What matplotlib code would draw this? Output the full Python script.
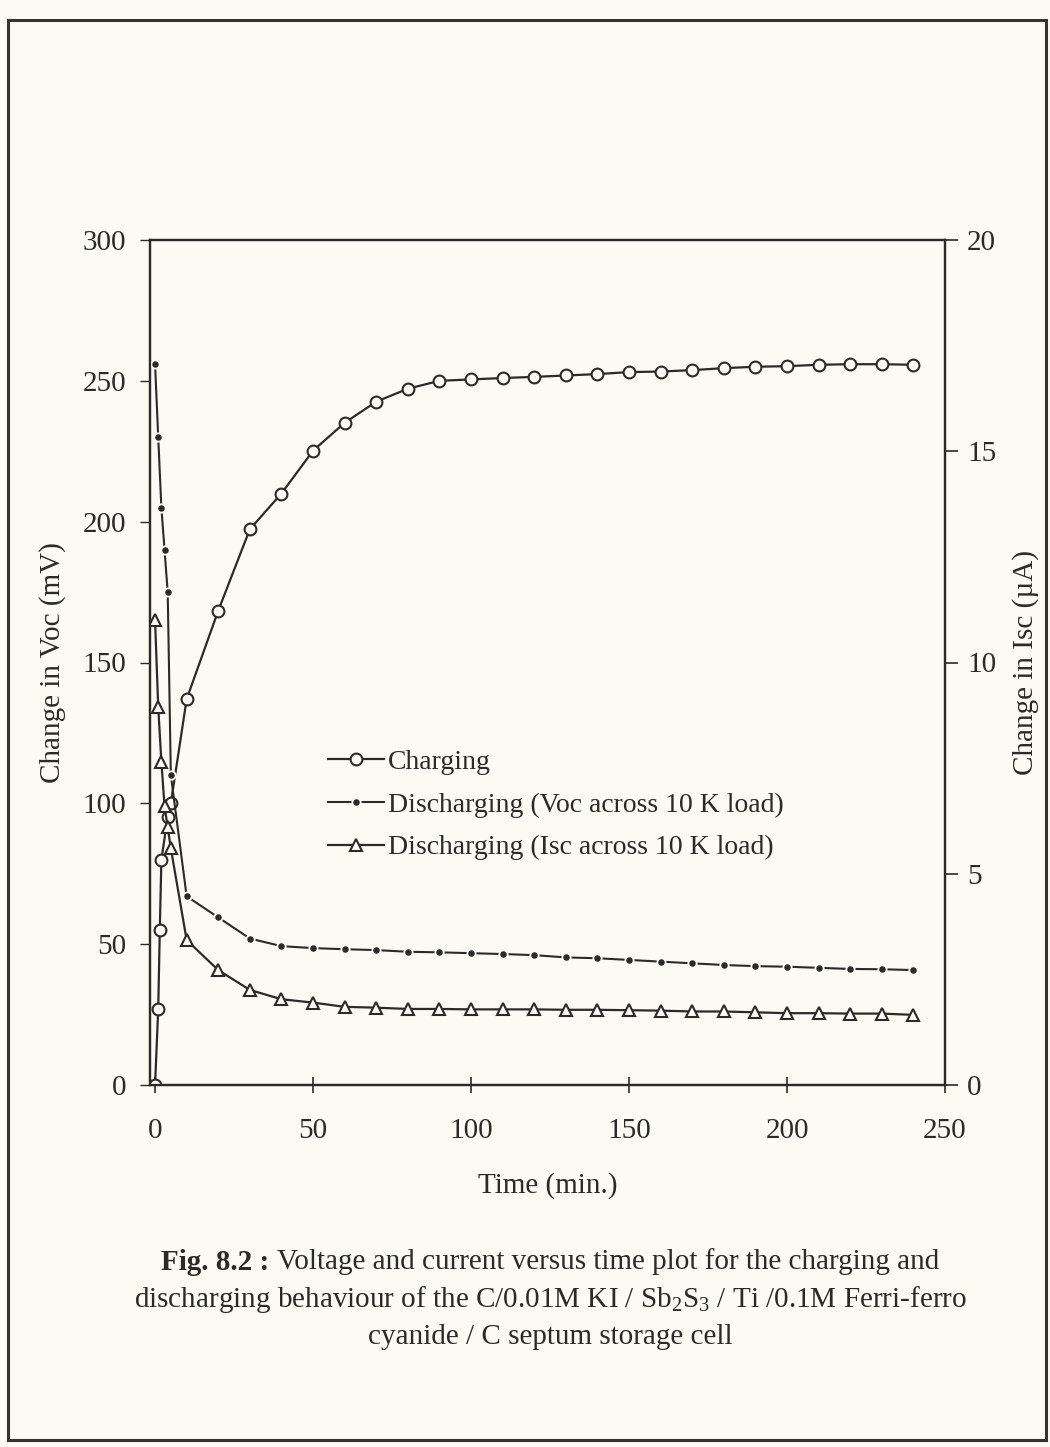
import matplotlib
matplotlib.use("Agg")
import matplotlib.pyplot as plt
from matplotlib.patches import Rectangle

plt.rcParams["font.family"] = ["Liberation Serif", "DejaVu Serif"]
plt.rcParams["mathtext.fontset"] = "custom"
plt.rcParams["mathtext.rm"] = "Liberation Serif"
plt.rcParams["mathtext.it"] = "Liberation Serif"
plt.rcParams["mathtext.bf"] = "Liberation Serif:bold"

# ---------------------------------------------------------------
# Data
# ---------------------------------------------------------------
t_long = list(range(10, 250, 10))

t_charge = [0, 1, 1.5, 2, 4, 5] + t_long
v_charge = [0, 27, 55, 80, 95, 100,
            137, 168.4, 197.3, 210, 225.2, 235.1, 242.6, 247.2, 250, 250.5,
            251, 251.4, 251.9, 252.4, 253.1, 253.3, 253.8, 254.5, 255, 255.2,
            255.7, 255.9, 255.9, 255.7]

t_dis = [0, 1, 2, 3, 4, 5] + t_long
v_dis = [256, 230, 205, 190, 175, 110,
         67, 59.5, 52, 49.3, 48.6, 48.2, 47.9, 47.3, 47.1, 46.8,
         46.5, 46.1, 45.3, 45.0, 44.4, 43.8, 43.2, 42.6, 42.2, 42.0,
         41.6, 41.2, 41.1, 40.8]

t_isc = [0, 1, 2, 3, 4, 5] + t_long
i_isc = [11.0, 8.95, 7.65, 6.6, 6.1, 5.6,
         3.43, 2.72, 2.25, 2.03, 1.95, 1.85, 1.83, 1.80, 1.80, 1.79,
         1.79, 1.79, 1.78, 1.78, 1.77, 1.76, 1.74, 1.74, 1.72, 1.70,
         1.70, 1.69, 1.69, 1.66]

x_ticks = [0, 50, 100, 150, 200, 250]
v_ticks = [0, 50, 100, 150, 200, 250, 300]
i_ticks = [0, 5, 10, 15, 20]

BG = "#fcfbf3"
INK = "#2a2a2a"
FS = 21

fig = plt.figure(figsize=(10.5, 14.47), dpi=100, facecolor=BG)
ax = fig.add_axes([150 / 1050, 1 - 1085 / 1447, 795 / 1050, 845 / 1447])
ax.set_facecolor(BG)
ax2 = ax.twinx()

l1, = ax.plot(t_charge, v_charge, color=INK, lw=1.6, marker="o", ms=8.5,
              mfc=BG, mec=INK, mew=1.5, label="Charging", zorder=3)
l2, = ax.plot(t_dis, v_dis, color=INK, lw=1.5, marker="o", ms=6,
              mfc=INK, mec=BG, mew=1.3,
              label="Discharging (Voc across 10 K load)", zorder=3)
l3, = ax2.plot(t_isc, i_isc, color=INK, lw=1.6, marker="^", ms=8.5,
               mfc=BG, mec=INK, mew=1.5,
               label="Discharging (Isc across 10 K load)", zorder=3)

ax.set_xlim(-1.6, 250)
ax.set_ylim(0, 300)
ax2.set_ylim(0, 20)
ax.set_xticks(x_ticks)
ax.set_yticks(v_ticks)
ax2.set_yticks(i_ticks)

for a in (ax, ax2):
    for s in a.spines.values():
        s.set_color(INK)
        s.set_linewidth(1.6)

ax.tick_params(axis="x", direction="inout", length=12, width=1.2,
               labelsize=FS, pad=18, colors=INK)
ax.tick_params(axis="y", direction="out", length=7, width=1.0,
               labelsize=FS, pad=10, colors=INK)
ax2.tick_params(axis="y", direction="out", length=9, width=1.2,
                labelsize=FS, pad=7, colors=INK)

ax.set_xlabel("Time (min.)", fontsize=FS, color=INK, labelpad=20)
ax.set_ylabel("Change in Voc (mV)", fontsize=FS, color=INK, labelpad=12)
ax2.set_ylabel("Change in Isc (\u00b5A)", fontsize=FS, color=INK, labelpad=11)

leg = ax.legend(handles=[l1, l2, l3], loc="upper left",
                bbox_to_anchor=(0.21, 0.41), frameon=False, fontsize=20,
                handlelength=2.0, handletextpad=0.15, labelspacing=0.62,
                borderaxespad=0)
for txt in leg.get_texts():
    txt.set_color(INK)

# caption: bold prefix + plain text on first line, centred as one line
cx = 550 / 1050
line_h = 37.5 / 1447
y0 = 1 - 1262 / 1447
bold = fig.text(0, y0, "Fig. 8.2 : ", fontsize=FS, fontweight="bold",
                color=INK, ha="left", va="center")
rest = fig.text(0, y0, "Voltage and current versus time plot for the charging and",
                fontsize=FS, color=INK, ha="left", va="center")
fig.canvas.draw()
r = fig.canvas.get_renderer()
wb = bold.get_window_extent(r).width / fig.bbox.width
wr = rest.get_window_extent(r).width / fig.bbox.width
x0 = cx - (wb + wr) / 2
bold.set_x(x0)
rest.set_x(x0 + wb)
fig.text(cx, y0 - line_h,
         "discharging behaviour of the C/0.01M KI / Sb$_2$S$_3$ / Ti /0.1M Ferri-ferro",
         fontsize=FS, color=INK, ha="center", va="center")
fig.text(cx, y0 - 2 * line_h, "cyanide / C septum storage cell",
         fontsize=FS, color=INK, ha="center", va="center")

# scanned page border
fig.add_artist(Rectangle((8 / 1050, 1 - 1440 / 1447), 1038 / 1050, 1420 / 1447,
                         transform=fig.transFigure, fill=False,
                         edgecolor="#333333", linewidth=2.2))

fig.savefig("out.png", dpi=100, facecolor=BG)
